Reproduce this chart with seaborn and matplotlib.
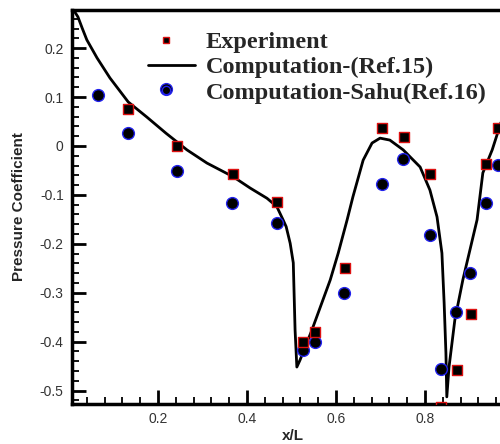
import matplotlib
matplotlib.use("Agg")
import matplotlib.pyplot as plt
from matplotlib.lines import Line2D
from matplotlib.legend_handler import HandlerLine2D
from matplotlib.ticker import MultipleLocator, FixedLocator, FuncFormatter
import seaborn as sns
import pandas as pd

# Experiment (red-edged squares)
exp_x = [0.133, 0.243, 0.369, 0.467, 0.526, 0.553, 0.620, 0.703, 0.753, 0.811, 0.836, 0.872, 0.903, 0.937, 0.964]
exp_y = [0.076, 0.000, -0.057, -0.115, -0.401, -0.380, -0.249, 0.037, 0.019, -0.057, -0.533, -0.458, -0.344, -0.037, 0.037]

# Computation - Sahu (Ref.16) (blue-edged circles)
sahu_x = [0.065, 0.133, 0.218, 0.243, 0.367, 0.467, 0.526, 0.553, 0.618, 0.703, 0.751, 0.811, 0.836, 0.870, 0.901, 0.937, 0.964]
sahu_y = [0.104, 0.026, 0.117, -0.052, -0.117, -0.157, -0.417, -0.401, -0.300, -0.078, -0.027, -0.182, -0.456, -0.339, -0.260, -0.117, -0.039]

# Computation (Ref.15) line
ref_x = [0.013, 0.020, 0.030, 0.040, 0.063, 0.092, 0.133, 0.175, 0.218, 0.265, 0.310, 0.369, 0.407,
         0.445, 0.467, 0.481, 0.488, 0.497, 0.504, 0.508, 0.512, 0.519, 0.546, 0.587, 0.605, 0.625,
         0.638, 0.661, 0.681, 0.699, 0.721, 0.751, 0.789, 0.811, 0.827, 0.838, 0.843, 0.847, 0.849,
         0.854, 0.867, 0.885, 0.917, 0.930, 0.951, 0.969, 0.985]
ref_y = [0.274, 0.264, 0.240, 0.217, 0.180, 0.139, 0.090, 0.059, 0.026, -0.008, -0.035, -0.063, -0.086,
         -0.107, -0.124, -0.151, -0.165, -0.199, -0.239, -0.376, -0.452, -0.438, -0.376, -0.274, -0.219, -0.151,
         -0.104, -0.029, 0.006, 0.016, 0.012, -0.008, -0.043, -0.090, -0.145, -0.219, -0.321, -0.423, -0.513,
         -0.452, -0.356, -0.274, -0.151, -0.055, -0.008, 0.043, 0.090]

x_ticks = [0.2, 0.4, 0.6, 0.8]
labels = ["Experiment", "Computation-(Ref.15)", "Computation-Sahu(Ref.16)"]


class ShiftedMarkerHandler(HandlerLine2D):
    """Legend handler that draws its marker a little left of the handle centre."""
    def __init__(self, shift=4.3, **kw):
        super().__init__(**kw)
        self.shift = shift

    def get_xdata(self, legend, xdescent, ydescent, width, height, fontsize):
        xdata, xmarker = super().get_xdata(legend, xdescent, ydescent, width, height, fontsize)
        return ([x - self.shift for x in xdata], [x - self.shift for x in xmarker])


sns.set_style("white")
plt.rcParams["font.family"] = ["Liberation Sans", "DejaVu Sans"]

fig = plt.figure(figsize=(5.0, 4.44), dpi=100)
ax = fig.add_axes([72/500, 40/444, 442/500, 394/444])

ref_df = pd.DataFrame({"x": ref_x, "y": ref_y})
exp_df = pd.DataFrame({"x": exp_x, "y": exp_y})
sahu_df = pd.DataFrame({"x": sahu_x, "y": sahu_y})

sns.lineplot(data=ref_df, x="x", y="y", sort=False, estimator=None, color="black",
             linewidth=2.0, ax=ax, zorder=2)
sns.scatterplot(data=sahu_df, x="x", y="y", marker="o", s=72, color="black",
                edgecolor="#2222ee", linewidth=1.0, ax=ax, zorder=3)
sns.scatterplot(data=exp_df, x="x", y="y", marker="s", s=50, color="black",
                edgecolor="#dd1111", linewidth=1.0, ax=ax, zorder=4)

ax.set_xlim(0.0067, 1.0)
ax.set_ylim(-0.5276, 0.278)
ax.xaxis.set_major_locator(FixedLocator(x_ticks))
ax.xaxis.set_minor_locator(MultipleLocator(0.04))
ax.yaxis.set_major_locator(MultipleLocator(0.1))
ax.yaxis.set_minor_locator(MultipleLocator(0.02))
ax.xaxis.set_major_formatter(FuncFormatter(lambda v, p: f"{v:g}"))
ax.yaxis.set_major_formatter(FuncFormatter(lambda v, p: "0" if abs(v) < 1e-9 else f"{v:g}"))

ax.tick_params(which="both", direction="in", bottom=True, left=True, top=False, right=False,
               colors="black", labelcolor="#333333", labelsize=10)
ax.tick_params(which="major", length=10, width=2.0, pad=6)
ax.tick_params(which="minor", length=5, width=1.3)
for side in ["left", "bottom", "top", "right"]:
    ax.spines[side].set_linewidth(2.5)
    ax.spines[side].set_color("black")

ax.set_xlabel("x/L", fontsize=11, fontweight="bold", labelpad=2)
ax.set_ylabel("Pressure Coefficient", fontsize=11, fontweight="bold", labelpad=10)

handles = [
    Line2D([], [], linestyle="none", marker="s", markersize=5, markerfacecolor="black",
           markeredgecolor="#dd1111", markeredgewidth=1.0),
    Line2D([], [], color="black", linewidth=2.0),
    Line2D([], [], linestyle="none", marker="o", markersize=6, markerfacecolor="black",
           markeredgecolor="#2222ee", markeredgewidth=1.0),
]
leg = fig.legend(handles, labels, loc="upper left", bbox_to_anchor=(148/500, 1 - 31/444),
                 frameon=False, handlelength=1.95, handletextpad=0.42, labelspacing=0.14,
                 borderpad=0, borderaxespad=0,
                 handler_map={handles[0]: ShiftedMarkerHandler(), handles[2]: ShiftedMarkerHandler()},
                 prop={"family": "Liberation Serif", "weight": "bold", "size": 17.5})

fig.savefig("out.png", dpi=100)
